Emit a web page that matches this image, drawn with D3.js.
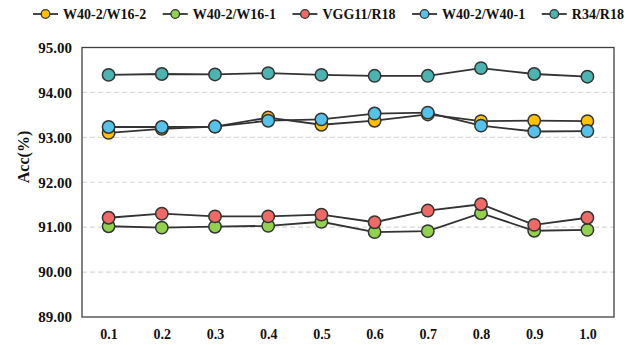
<!DOCTYPE html>
<html>
<head>
<meta charset="utf-8">
<script src="https://cdn.jsdelivr.net/npm/d3@7/dist/d3.min.js"></script>
<style>
  html, body { margin: 0; padding: 0; background: #fff; }
  svg { display: block; font-family: "Liberation Serif", "Times New Roman", serif; }
</style>
</head>
<body>
<svg id="chart" width="631" height="345"></svg>
<script>
const categories = ["0.1", "0.2", "0.3", "0.4", "0.5", "0.6", "0.7", "0.8", "0.9", "1.0"];
const seriesNames = ["W40-2/W16-2", "W40-2/W16-1", "VGG11/R18", "W40-2/W40-1", "R34/R18"];
const seriesColors = ["#FFC000", "#92D050", "#EE6A66", "#56C2EA", "#4DB3B0"];
const w40w162 = [93.10, 93.19, 93.24, 93.44, 93.28, 93.37, 93.51, 93.36, 93.37, 93.36];
const w40w161 = [91.02, 90.99, 91.01, 91.03, 91.12, 90.89, 90.91, 91.31, 90.92, 90.94];
const vgg11r18 = [91.21, 91.30, 91.24, 91.24, 91.28, 91.11, 91.37, 91.51, 91.05, 91.21];
const w40w401 = [93.23, 93.23, 93.24, 93.37, 93.40, 93.53, 93.55, 93.26, 93.13, 93.14];
const r34r18 = [94.39, 94.41, 94.40, 94.43, 94.39, 94.37, 94.37, 94.54, 94.41, 94.35];
const yTicks = [89, 90, 91, 92, 93, 94, 95];
const yLabel = "Acc(%)";

const seriesValues = [w40w162, w40w161, vgg11r18, w40w401, r34r18];
const series = seriesNames.map((name, i) => ({ name, color: seriesColors[i], values: seriesValues[i] }));

const svg = d3.select("#chart");
const plot = { left: 82, right: 614, top: 47.5, bottom: 317 };

const x = d3.scalePoint().domain(categories).range([plot.left, plot.right]).padding(0.5);
const y = d3.scaleLinear().domain([89, 95]).range([plot.bottom, plot.top]);

// gridlines
svg.append("g").selectAll("line")
  .data(yTicks.filter(t => t > 89 && t < 95))
  .join("line")
  .attr("x1", plot.left).attr("x2", plot.right)
  .attr("y1", d => y(d)).attr("y2", d => y(d))
  .attr("stroke", "#d9d9d9").attr("stroke-width", 1.2)
  .attr("stroke-dasharray", "5,3");

// frame
svg.append("rect")
  .attr("x", plot.left).attr("y", plot.top)
  .attr("width", plot.right - plot.left).attr("height", plot.bottom - plot.top)
  .attr("fill", "none").attr("stroke", "#404040").attr("stroke-width", 1.3);

// y axis
const yAxis = svg.append("g")
  .attr("transform", `translate(${plot.left},0)`)
  .call(d3.axisLeft(y).tickValues(yTicks).tickFormat(d3.format(".2f")).tickSize(0).tickPadding(10));
yAxis.select(".domain").remove();
yAxis.selectAll("text")
  .attr("font-family", "Liberation Serif, Times New Roman, serif")
  .attr("font-weight", "bold").attr("font-size", 15).attr("fill", "#111");

// x axis
const xAxis = svg.append("g")
  .attr("transform", `translate(0,${plot.bottom})`)
  .call(d3.axisBottom(x).tickSize(0).tickPadding(12));
xAxis.select(".domain").remove();
xAxis.selectAll("text")
  .attr("font-family", "Liberation Serif, Times New Roman, serif")
  .attr("font-weight", "bold").attr("font-size", 14).attr("fill", "#111");

// y label
svg.append("text")
  .attr("transform", `translate(29,157) rotate(-90)`)
  .attr("text-anchor", "middle")
  .attr("font-weight", "bold").attr("font-size", 16).attr("fill", "#111")
  .text(yLabel);

// series
const line = d3.line().x((d, i) => x(categories[i])).y(d => y(d));
series.forEach(s => {
  const g = svg.append("g");
  g.append("path").attr("d", line(s.values))
    .attr("fill", "none").attr("stroke", "#333").attr("stroke-width", 1.8);
  g.selectAll("circle").data(s.values).join("circle")
    .attr("cx", (d, i) => x(categories[i])).attr("cy", d => y(d))
    .attr("r", 6.2)
    .attr("fill", s.color).attr("stroke", "#333").attr("stroke-width", 1.5);
});

// legend
const legend = svg.append("g");
let lx = 33;
const ly = 14;
series.forEach(s => {
  const item = legend.append("g");
  item.append("line").attr("x1", lx).attr("x2", lx + 25).attr("y1", ly).attr("y2", ly)
    .attr("stroke", "#333").attr("stroke-width", 1.8);
  item.append("circle").attr("cx", lx + 12.5).attr("cy", ly).attr("r", 4.3)
    .attr("fill", s.color).attr("stroke", "#333").attr("stroke-width", 1.3);
  const t = item.append("text").attr("x", lx + 30).attr("y", ly + 5)
    .attr("font-weight", "bold").attr("font-size", 14).attr("fill", "#111")
    .text(s.name);
  const w = t.node().getComputedTextLength();
  lx = lx + 30 + w + 16.5;
});
</script>
</body>
</html>
